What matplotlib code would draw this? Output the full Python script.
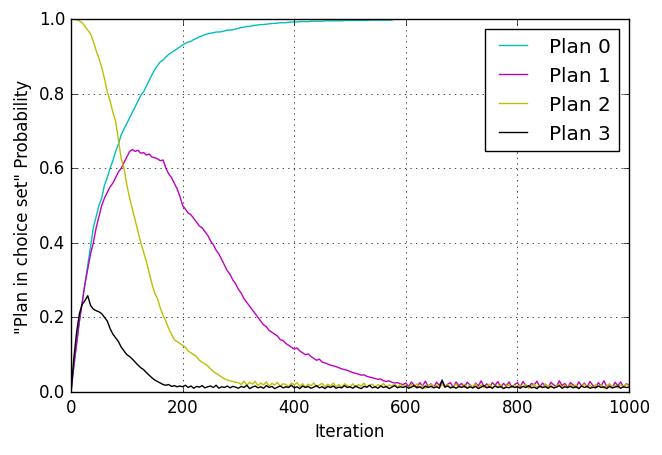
import numpy as np
import matplotlib
matplotlib.use("Agg")
import matplotlib.pyplot as plt

iterations = np.arange(0, 1001, 5)

plan0 = [
    0.0, 0.07, 0.13, 0.19, 0.24, 0.29, 0.34, 0.39, 0.44, 0.47, 0.50, 0.52, 0.555, 0.575, 0.60, 0.62, 0.645, 0.665, 0.69, 0.705,
    0.72, 0.735, 0.75, 0.765, 0.78, 0.795, 0.805, 0.82, 0.835, 0.85, 0.865, 0.875, 0.885, 0.89, 0.898, 0.905, 0.91, 0.915, 0.92, 0.925,
    0.93, 0.935, 0.938, 0.94, 0.945, 0.948, 0.952, 0.955, 0.958, 0.96, 0.962, 0.963, 0.965, 0.965, 0.966, 0.968, 0.97, 0.97, 0.971, 0.973,
    0.975, 0.977, 0.978, 0.98, 0.98, 0.982, 0.983, 0.984, 0.985, 0.985, 0.986, 0.987, 0.988, 0.988, 0.989, 0.99, 0.99, 0.99, 0.991, 0.992,
    0.992, 0.992, 0.993, 0.993, 0.993, 0.993, 0.994, 0.994, 0.994, 0.994, 0.994, 0.995, 0.995, 0.995, 0.995, 0.995, 0.995, 0.995, 0.996, 0.996,
    0.996, 0.996, 0.996, 0.996, 0.996, 0.996, 0.996, 0.997, 0.997, 0.997, 0.997, 0.997, 0.997, 0.997, 0.997, 0.997, 1.0, 1.0, 1.0, 1.0,
] + [1.0] * 81

plan1 = [
    0.0, 0.07, 0.13, 0.19, 0.24, 0.29, 0.33, 0.37, 0.40, 0.44, 0.47, 0.50, 0.52, 0.535, 0.55, 0.56, 0.575, 0.59, 0.60, 0.615,
    0.63, 0.645, 0.65, 0.645, 0.648, 0.64, 0.642, 0.635, 0.638, 0.63, 0.628, 0.625, 0.62, 0.622, 0.60, 0.585, 0.575, 0.56, 0.545, 0.525,
    0.50, 0.49, 0.48, 0.475, 0.465, 0.455, 0.445, 0.44, 0.43, 0.42, 0.405, 0.395, 0.38, 0.37, 0.355, 0.34, 0.325, 0.315, 0.30, 0.29,
    0.275, 0.265, 0.25, 0.24, 0.23, 0.22, 0.21, 0.2, 0.19, 0.18, 0.175, 0.165, 0.16, 0.155, 0.15, 0.14, 0.138, 0.13, 0.125, 0.12,
    0.115, 0.118, 0.11, 0.105, 0.1, 0.102, 0.095, 0.09, 0.085, 0.088, 0.08, 0.078, 0.075, 0.072, 0.07, 0.068, 0.065, 0.062, 0.06, 0.058,
    0.055, 0.052, 0.05, 0.048, 0.045, 0.046, 0.042, 0.04, 0.038, 0.036, 0.034, 0.035, 0.03, 0.028, 0.03, 0.026, 0.024, 0.025, 0.022, 0.02,
    0.024, 0.014, 0.027, 0.018, 0.012, 0.025, 0.016, 0.029, 0.015, 0.022, 0.013, 0.026, 0.018, 0.03, 0.014, 0.021, 0.025, 0.012, 0.027, 0.017,
    0.023, 0.013, 0.026, 0.019, 0.011, 0.024, 0.016, 0.03, 0.014, 0.022, 0.012, 0.025, 0.018, 0.028, 0.013, 0.023, 0.016, 0.027, 0.012, 0.02,
    0.025, 0.014, 0.028, 0.017, 0.012, 0.023, 0.019, 0.029, 0.013, 0.024, 0.016, 0.011, 0.026, 0.019, 0.014, 0.03, 0.017, 0.023, 0.012, 0.025,
    0.019, 0.012, 0.027, 0.016, 0.024, 0.013, 0.028, 0.018, 0.012, 0.025, 0.016, 0.03, 0.014, 0.021, 0.011, 0.026, 0.017, 0.027, 0.013, 0.022,
    0.019,
]

plan2 = [
    1.0, 1.0, 0.998, 0.995, 0.99, 0.98, 0.97, 0.96, 0.94, 0.915, 0.895, 0.87, 0.84, 0.805, 0.78, 0.75, 0.725, 0.675, 0.625, 0.6,
    0.555, 0.52, 0.49, 0.46, 0.43, 0.40, 0.375, 0.35, 0.32, 0.29, 0.265, 0.25, 0.225, 0.205, 0.19, 0.17, 0.155, 0.14, 0.135, 0.13,
    0.125, 0.12, 0.11, 0.105, 0.1, 0.095, 0.085, 0.08, 0.075, 0.07, 0.062, 0.055, 0.05, 0.045, 0.04, 0.035, 0.032, 0.03, 0.028, 0.026,
    0.025, 0.02, 0.029, 0.018, 0.026, 0.021, 0.028, 0.017, 0.024, 0.019, 0.027, 0.016, 0.023, 0.019, 0.026, 0.015, 0.022, 0.02, 0.014, 0.024,
    0.019, 0.025, 0.015, 0.022, 0.013, 0.021, 0.017, 0.024, 0.014, 0.019, 0.023, 0.013, 0.021, 0.016, 0.024, 0.014, 0.02, 0.012, 0.022, 0.017,
    0.014, 0.022, 0.013, 0.02, 0.016, 0.024, 0.012, 0.018, 0.021, 0.013, 0.02, 0.015, 0.023, 0.012, 0.019, 0.016, 0.022, 0.013, 0.02, 0.015,
    0.017, 0.011, 0.02, 0.014, 0.022, 0.012, 0.019, 0.01, 0.016, 0.021, 0.013, 0.018, 0.011, 0.02, 0.014, 0.019, 0.01, 0.016, 0.021, 0.013,
    0.016, 0.02, 0.011, 0.018, 0.014, 0.022, 0.01, 0.019, 0.013, 0.016, 0.021, 0.011, 0.018, 0.014, 0.02, 0.01, 0.016, 0.019, 0.013, 0.018,
    0.012, 0.019, 0.014, 0.021, 0.01, 0.016, 0.02, 0.013, 0.018, 0.011, 0.022, 0.014, 0.019, 0.01, 0.016, 0.021, 0.013, 0.018, 0.011, 0.02,
    0.014, 0.019, 0.01, 0.016, 0.021, 0.013, 0.018, 0.011, 0.02, 0.014, 0.019, 0.01, 0.016, 0.022, 0.013, 0.018, 0.011, 0.019, 0.014, 0.021,
    0.016,
]

plan3 = [
    0.0, 0.09, 0.16, 0.21, 0.235, 0.245, 0.258, 0.232, 0.222, 0.218, 0.215, 0.21, 0.2, 0.19, 0.17, 0.155, 0.145, 0.135, 0.12, 0.11,
    0.1, 0.095, 0.088, 0.08, 0.072, 0.065, 0.06, 0.052, 0.045, 0.038, 0.032, 0.028, 0.024, 0.02, 0.018, 0.02, 0.015, 0.017, 0.014, 0.016,
    0.014, 0.018, 0.012, 0.016, 0.01, 0.015, 0.013, 0.017, 0.011, 0.014, 0.016, 0.012, 0.018, 0.01, 0.014, 0.012, 0.016, 0.011, 0.015, 0.013,
    0.01, 0.015, 0.012, 0.018, 0.009, 0.013, 0.016, 0.011, 0.014, 0.01, 0.017, 0.012, 0.015, 0.009, 0.013, 0.016, 0.011, 0.014, 0.012, 0.018,
    0.011, 0.014, 0.009, 0.016, 0.012, 0.015, 0.01, 0.013, 0.017, 0.011, 0.014, 0.009, 0.015, 0.012, 0.016, 0.01, 0.013, 0.011, 0.017, 0.012,
    0.014, 0.01, 0.016, 0.012, 0.009, 0.015, 0.013, 0.018, 0.011, 0.014, 0.01, 0.016, 0.012, 0.015, 0.009, 0.013, 0.017, 0.011, 0.014, 0.012,
    0.015, 0.01, 0.013, 0.017, 0.011, 0.014, 0.009, 0.016, 0.012, 0.015, 0.011, 0.014, 0.01, 0.032, 0.013, 0.016, 0.011, 0.014, 0.01, 0.015,
    0.012, 0.016, 0.01, 0.014, 0.011, 0.015, 0.009, 0.013, 0.017, 0.011, 0.014, 0.01, 0.016, 0.012, 0.015, 0.009, 0.013, 0.011, 0.016, 0.012,
    0.014, 0.01, 0.015, 0.012, 0.017, 0.011, 0.013, 0.009, 0.016, 0.012, 0.014, 0.01, 0.015, 0.011, 0.013, 0.017, 0.01, 0.014, 0.012, 0.015,
    0.011, 0.014, 0.009, 0.016, 0.012, 0.015, 0.01, 0.013, 0.011, 0.016, 0.012, 0.014, 0.009, 0.015, 0.011, 0.013, 0.016, 0.01, 0.014, 0.012,
    0.013,
]

series = [plan0, plan1, plan2, plan3]
labels = ["Plan 0", "Plan 1", "Plan 2", "Plan 3"]
colors = ["c", "m", "y", "k"]

# --- Plot in the old matplotlib look ---
plt.style.use("classic")
fig = plt.figure(figsize=(6.62, 4.56), dpi=100, facecolor="white")
ax = fig.add_axes([0.1073, 0.1382, 0.8429, 0.8180])

for vals, lab, col in zip(series, labels, colors):
    ax.plot(iterations, vals, color=col, linewidth=1.0, label=lab)

ax.set_xlim(0, 1000)
ax.set_ylim(0, 1.0)
ax.set_xlabel("Iteration")
ax.set_ylabel('"Plan in choice set" Probability')
ax.grid(True)
ax.legend(loc="upper right")

fig.savefig("out.png", dpi=100, facecolor="white")
